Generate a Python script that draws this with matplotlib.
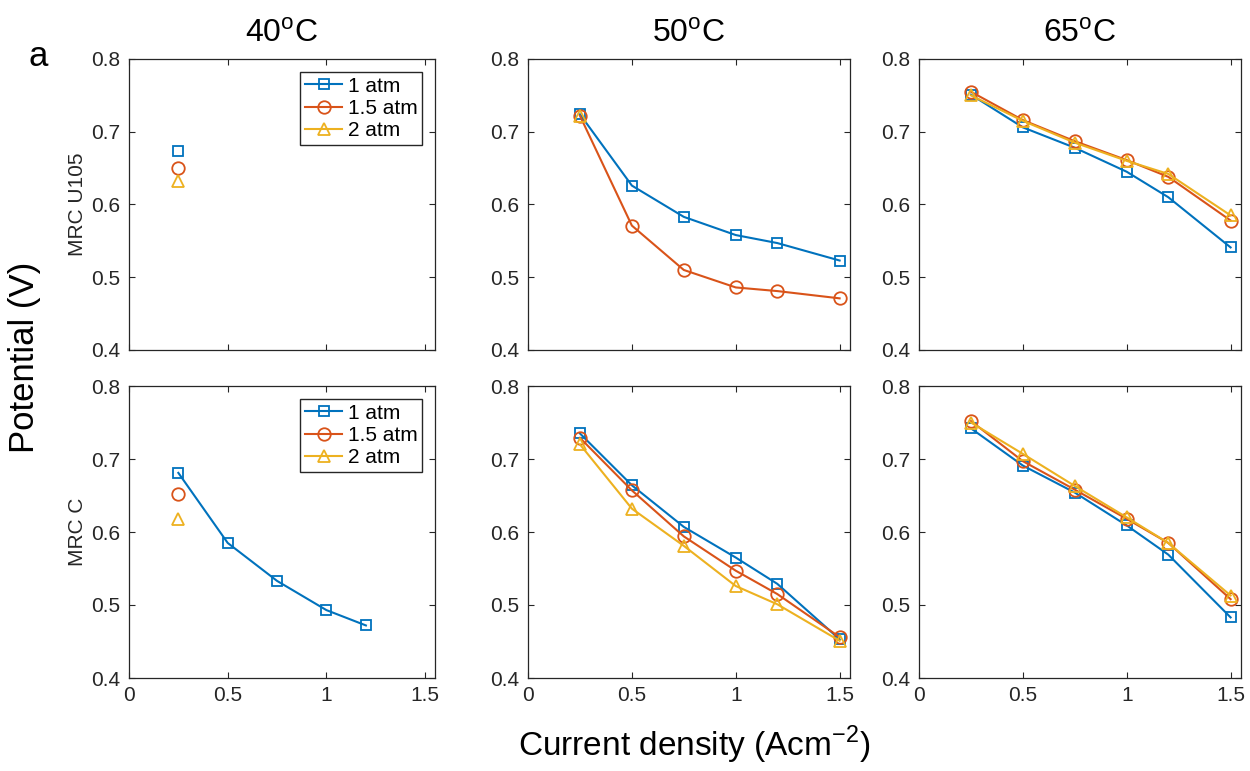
import numpy as np
import matplotlib.pyplot as plt

# Data
x_full = [0.25, 0.5, 0.75, 1.0, 1.2, 1.5]
pressures = ["1 atm", "1.5 atm", "2 atm"]
temps = ["40", "50", "65"]
membranes = ["MRC U105", "MRC C"]

# 40 C
u105_40 = {"1 atm": ([0.25], [0.674]),
           "1.5 atm": ([0.25], [0.650]),
           "2 atm": ([0.25], [0.632])}
c_40 = {"1 atm": ([0.25, 0.5, 0.75, 1.0, 1.2], [0.681, 0.585, 0.533, 0.493, 0.472]),
        "1.5 atm": ([0.25], [0.652]),
        "2 atm": ([0.25], [0.618])}
# 50 C
u105_50 = {"1 atm": (x_full, [0.724, 0.626, 0.583, 0.558, 0.547, 0.523]),
           "1.5 atm": (x_full, [0.722, 0.571, 0.510, 0.486, 0.481, 0.471]),
           "2 atm": ([0.25], [0.722])}
c_50 = {"1 atm": (x_full, [0.735, 0.664, 0.607, 0.565, 0.529, 0.453]),
        "1.5 atm": (x_full, [0.729, 0.657, 0.594, 0.547, 0.515, 0.456]),
        "2 atm": (x_full, [0.720, 0.632, 0.581, 0.526, 0.501, 0.451])}
# 65 C
u105_65 = {"1 atm": (x_full, [0.751, 0.706, 0.678, 0.645, 0.610, 0.541]),
           "1.5 atm": (x_full, [0.755, 0.716, 0.687, 0.661, 0.638, 0.578]),
           "2 atm": (x_full, [0.750, 0.715, 0.685, 0.660, 0.642, 0.585])}
c_65 = {"1 atm": (x_full, [0.742, 0.691, 0.654, 0.609, 0.569, 0.483]),
        "1.5 atm": (x_full, [0.752, 0.697, 0.658, 0.618, 0.585, 0.508]),
        "2 atm": (x_full, [0.750, 0.707, 0.663, 0.620, 0.585, 0.513])}

panels = [[u105_40, u105_50, u105_65], [c_40, c_50, c_65]]

colors = {"1 atm": "#0072BD", "1.5 atm": "#D95319", "2 atm": "#EDB120"}
markers = {"1 atm": "s", "1.5 atm": "o", "2 atm": "^"}
msizes = {"1 atm": 7, "1.5 atm": 9, "2 atm": 9}
fg = "#262626"

plt.rcParams["font.family"] = "Liberation Sans"

fig = plt.figure(figsize=(12.5, 7.71), dpi=100)
W, H = 1250, 771
cols = [(129, 435), (528, 850), (919, 1241)]
rows = [(59, 350), (386, 678)]

for r, (yt, yb) in enumerate(rows):
    for c, (xl, xr) in enumerate(cols):
        ax = fig.add_axes([xl / W, 1 - yb / H, (xr - xl) / W, (yb - yt) / H])
        data = panels[r][c]
        for p in pressures:
            xs, ys = data[p]
            ax.plot(xs, ys, color=colors[p], marker=markers[p], ms=msizes[p],
                    mfc="none", mew=1.3, lw=1.5, label=p)
        ax.set_xlim(0, 1.55)
        ax.set_ylim(0.4, 0.8)
        ax.set_xticks([0, 0.5, 1, 1.5])
        ax.set_yticks([0.4, 0.5, 0.6, 0.7, 0.8])
        ax.set_xticklabels(["0", "0.5", "1", "1.5"])
        ax.set_yticklabels(["0.4", "0.5", "0.6", "0.7", "0.8"])
        ax.tick_params(direction="in", top=True, right=True, length=4,
                       labelsize=15, colors=fg, width=0.8, pad=6)
        for s in ax.spines.values():
            s.set_color(fg)
            s.set_linewidth(0.9)
        if r == 0:
            ax.tick_params(labelbottom=False)
            ax.set_title(temps[c] + r"$^{\mathregular{o}}$C", fontsize=23, pad=12)
        if c == 0:
            ax.set_ylabel(membranes[r], fontsize=15, color=fg, labelpad=3)
            leg = ax.legend(loc="upper right", fontsize=15, fancybox=False,
                            edgecolor=fg, framealpha=1, handlelength=1.8,
                            borderaxespad=0.6, labelspacing=0.15,
                            handletextpad=0.25, borderpad=0.25)
            leg.get_frame().set_linewidth(1.0)

fig.text(38 / W, 1 - 57 / H, "a", fontsize=25, ha="center", va="center")
fig.text(25 / W, 1 - 357 / H, "Potential (V)", fontsize=25, rotation=90,
         ha="center", va="center")
fig.text(694 / W, 1 - 745 / H, r"Current density (Acm$^{\mathregular{-2}}$)",
         fontsize=24, ha="center", va="center")

fig.savefig("out.png", dpi=100)
